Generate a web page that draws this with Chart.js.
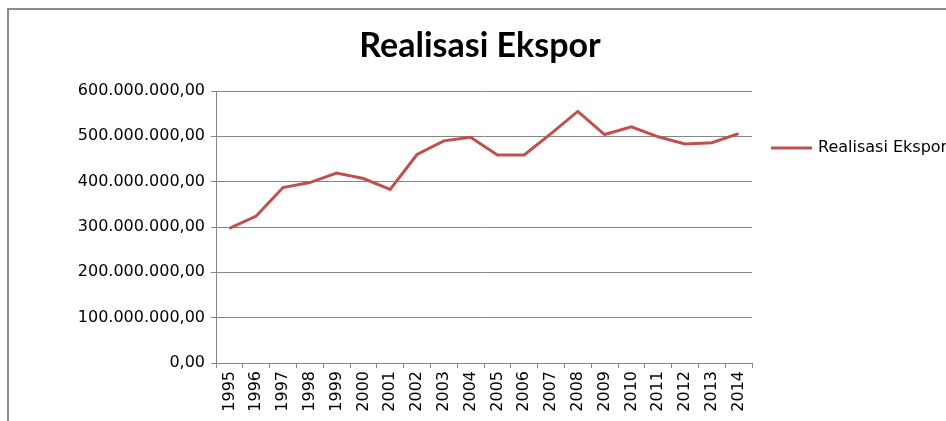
<!DOCTYPE html>
<html lang="id">
<head>
<meta charset="UTF-8">
<title>Realisasi Ekspor</title>
<script src="https://cdn.jsdelivr.net/npm/chart.js"></script>
<style>
  html, body { margin: 0; padding: 0; background: #fff; }
  #chart { display: block; }
</style>
</head>
<body>
<canvas id="chart" width="946" height="421"></canvas>
<script>
// data
const years = ['1995','1996','1997','1998','1999','2000','2001','2002','2003','2004',
               '2005','2006','2007','2008','2009','2010','2011','2012','2013','2014'];
const ekspor = [297e6, 324e6, 387e6, 398e6, 419e6, 407e6, 383e6, 460e6, 490e6, 498e6,
                459e6, 459e6, 506e6, 555e6, 504e6, 521e6, 499e6, 483e6, 486e6, 506e6];
const seriesName = 'Realisasi Ekspor';

const lineColor = '#C0504D';
const gridColor = '#868686';
const tickFont = { family: 'DejaVu Sans', size: 16 };

// 600000000 -> "600.000.000,00"
function formatId(v) {
  const whole = Math.round(v).toString().replace(/\B(?=(\d{3})+(?!\d))/g, '.');
  return whole + ',00';
}

// outer frame, title centred on the whole picture, legend on the right
const extras = {
  id: 'extras',
  beforeDraw(chart) {
    const c = chart.ctx;
    c.save();
    c.fillStyle = '#fff';
    c.fillRect(0, 0, chart.width, chart.height);
    c.strokeStyle = '#8c8c8c';
    c.lineWidth = 2;
    c.strokeRect(8, 9, 1200, 1200);
    c.restore();
  },
  afterDraw(chart) {
    const c = chart.ctx;
    c.save();
    c.fillStyle = '#000';
    c.font = 'bold 34px Lato';
    c.textAlign = 'center';
    c.textBaseline = 'alphabetic';
    c.fillText(seriesName, 480, 57);

    const y = 148;
    c.strokeStyle = lineColor;
    c.lineWidth = 3;
    c.beginPath();
    c.moveTo(771, y);
    c.lineTo(812, y);
    c.stroke();
    c.font = '16px "DejaVu Sans"';
    c.textAlign = 'left';
    c.textBaseline = 'middle';
    c.fillText(chart.data.datasets[0].label, 818, y);
    c.restore();
  }
};

new Chart(document.getElementById('chart'), {
  type: 'line',
  data: {
    labels: years,
    datasets: [{
      label: seriesName,
      data: ekspor,
      borderColor: lineColor,
      backgroundColor: lineColor,
      borderWidth: 3,
      pointRadius: 0,
      tension: 0,
      fill: false
    }]
  },
  options: {
    responsive: false,
    animation: false,
    layout: { padding: { top: 91, left: 0, right: 194, bottom: 0 } },
    plugins: {
      legend: { display: false },
      tooltip: { enabled: false },
      title: { display: false }
    },
    scales: {
      x: {
        offset: true,
        grid: { display: true, drawOnChartArea: false, offset: true, tickLength: 5, color: gridColor },
        border: { color: gridColor, width: 1 },
        ticks: {
          color: '#000',
          font: tickFont,
          minRotation: 90,
          maxRotation: 90,
          autoSkip: false,
          padding: 3
        },
        afterFit(s) { s.height = 58; }
      },
      y: {
        min: 0,
        max: 600e6,
        grid: { color: gridColor, tickLength: 5 },
        border: { color: gridColor, width: 1 },
        ticks: {
          stepSize: 100e6,
          color: '#000',
          font: tickFont,
          padding: 6,
          callback: (v) => formatId(v)
        },
        afterFit(s) { s.width = 216; }
      }
    }
  },
  plugins: [extras]
});
</script>
</body>
</html>
